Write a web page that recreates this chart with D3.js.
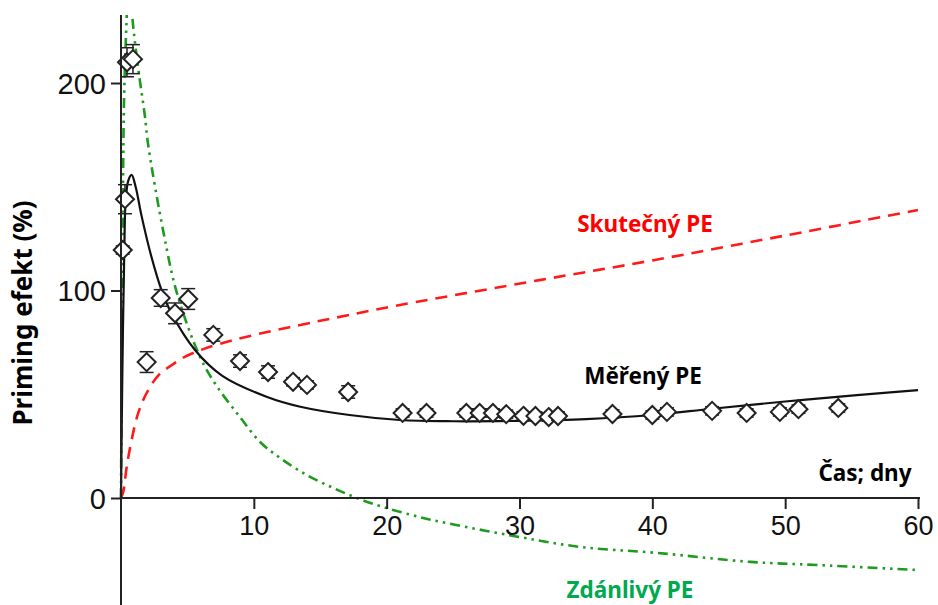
<!DOCTYPE html>
<html>
<head>
<meta charset="utf-8">
<script src="https://cdn.jsdelivr.net/npm/d3@7"></script>
<style>
  html, body { margin: 0; padding: 0; background: #fff; }
  svg { display: block; }
</style>
</head>
<body>
<div id="chart"></div>
<script>
// measured points: day, PE (%), error (+/-)
const measDays = [0.13, 0.3, 0.45, 0.9, 1.93, 2.99, 4.07, 5.06, 6.95, 8.96, 11.07, 12.95, 14, 17.1,
  21.2, 23, 26, 27, 28, 29, 30.3, 31.2, 32.2, 32.9, 37, 40, 41.1, 44.5, 47.1, 49.6, 51, 54];
const measPE = [119.5, 144, 210, 211.5, 65.5, 96.4, 89, 95.9, 78.6, 66, 60.7, 56, 54.5, 51.1,
  41, 41, 41, 41, 41, 40.4, 39.6, 39.5, 39, 39.5, 40.5, 40, 41.5, 42, 41, 41.5, 42.8, 43.4];
const measErr = [2, 7, 7, 7, 5, 4, 5, 5, 3, 3, 3, 2, 2, 3,
  2, 2, 2, 2, 2, 2, 2, 2, 2, 2, 2, 2, 2, 2, 2, 2, 2, 2];

// fitted "Měřený PE" (black solid)
const fitDays = [0, 0.1, 0.25, 0.35, 0.55, 0.8, 1.1, 1.56, 2.3, 3.06, 3.8, 5.57, 7.6, 11, 13.5, 17.2, 21, 25, 30, 35, 40, 44.5, 50, 55.4, 60];
const fitPE = [0, 60, 120, 143, 153, 155.7, 150, 135.6, 116, 100, 89, 71.3, 59, 48.7, 44, 40, 37.6, 37, 37.2, 38, 40, 43, 46.5, 49.6, 52];

// "Skutečný PE" (red dashed)
const realDays = [0, 0.17, 0.43, 0.8, 1.3, 1.93, 2.8, 3.8, 4.8, 6.3, 8.4, 11, 13.5, 16, 21, 31.5, 40, 50, 60];
const realPE = [0, 3, 15, 28, 41, 50.6, 59, 64, 68, 72, 76, 80, 83.4, 86.7, 93, 105, 114.5, 126.5, 138.8];

// "Zdánlivý PE" (green dash-dot-dot)
const appDays = [0, 0.06, 0.14, 0.23, 0.43, 0.62, 0.85, 1.3, 1.8, 2.05, 3.2, 4.2, 5.95, 7.2, 8.96, 10.47, 11.97, 14, 16, 17.75, 19.7, 22.5, 24, 30, 34.6, 40.4, 47.4, 52.4, 60];
const appPE = [0, 70, 140, 192, 232, 260, 232, 207, 184, 170, 128, 99, 68, 54, 39, 27, 19.3, 11, 4.8, 0, -4.3, -9.2, -11.4, -18.8, -23.6, -26.5, -30.8, -32.3, -34.7];

const xTicks = [10, 20, 30, 40, 50, 60];
const yTicks = [0, 100, 200];

const W = 938, H = 605;
const svg = d3.select("#chart").append("svg")
  .attr("width", W)
  .attr("height", H);

const x = d3.scaleLinear().domain([0, 60]).range([121, 918]);
const y = d3.scaleLinear().domain([0, 200]).range([498, 83]);

svg.append("defs").append("clipPath").attr("id", "plot")
  .append("rect").attr("x", 0).attr("y", 15).attr("width", W).attr("height", H - 15);

const plot = svg.append("g").attr("clip-path", "url(#plot)");

const line = d3.line()
  .x(d => x(d[0]))
  .y(d => y(d[1]))
  .curve(d3.curveCatmullRom.alpha(0.5));

// axes
const xAxis = svg.append("g")
  .attr("transform", `translate(0,${y(0)})`)
  .call(d3.axisBottom(x).tickValues(xTicks).tickSize(11).tickPadding(4).tickSizeOuter(0));
const yAxis = svg.append("g")
  .attr("transform", `translate(${x(0)},0)`)
  .call(d3.axisLeft(y).tickValues(yTicks).tickSize(10).tickPadding(5).tickSizeOuter(0));

[xAxis, yAxis].forEach(a => {
  a.select(".domain").remove();
  a.selectAll("line").attr("stroke", "#222").attr("stroke-width", 2);
  a.selectAll("text")
    .attr("fill", "#111")
    .style("font-family", "'Liberation Sans', Arial, sans-serif");
});
xAxis.selectAll("text").style("font-size", "27px").attr("dy", "0.8em");
yAxis.selectAll("text").style("font-size", "29px").attr("dy", "0.36em");

// axis lines
svg.append("line")
  .attr("x1", x(0)).attr("x2", x(60) + 2)
  .attr("y1", y(0)).attr("y2", y(0))
  .attr("stroke", "#222").attr("stroke-width", 2);
svg.append("line")
  .attr("x1", x(0)).attr("x2", x(0))
  .attr("y1", 15).attr("y2", H)
  .attr("stroke", "#222").attr("stroke-width", 2);

// curves
plot.append("path")
  .datum(d3.zip(appDays, appPE))
  .attr("d", line)
  .attr("fill", "none")
  .attr("stroke", "#1e9a1e")
  .attr("stroke-width", 2.6)
  .attr("stroke-dasharray", "10,5,2.5,5,2.5,5");

plot.append("path")
  .datum(d3.zip(realDays, realPE))
  .attr("d", line)
  .attr("fill", "none")
  .attr("stroke", "#ff1a1a")
  .attr("stroke-width", 2.6)
  .attr("stroke-dasharray", "12,8");

plot.append("path")
  .datum(d3.zip(fitDays, fitPE))
  .attr("d", line)
  .attr("fill", "none")
  .attr("stroke", "#111")
  .attr("stroke-width", 2.2);

// measured points with error bars
const pts = plot.append("g")
  .selectAll("g")
  .data(d3.zip(measDays, measPE, measErr))
  .join("g")
  .attr("transform", d => `translate(${x(d[0])},${y(d[1])})`);

pts.append("line")
  .attr("y1", d => y(d[1] + d[2]) - y(d[1]))
  .attr("y2", d => y(d[1] - d[2]) - y(d[1]))
  .attr("stroke", "#222").attr("stroke-width", 1.5);
pts.append("line")
  .attr("x1", -7).attr("x2", 7)
  .attr("y1", d => y(d[1] + d[2]) - y(d[1]))
  .attr("y2", d => y(d[1] + d[2]) - y(d[1]))
  .attr("stroke", "#222").attr("stroke-width", 1.5);
pts.append("line")
  .attr("x1", -7).attr("x2", 7)
  .attr("y1", d => y(d[1] - d[2]) - y(d[1]))
  .attr("y2", d => y(d[1] - d[2]) - y(d[1]))
  .attr("stroke", "#222").attr("stroke-width", 1.5);
pts.append("path")
  .attr("d", "M0,-9L9,0L0,9L-9,0Z")
  .attr("fill", "#fff")
  .attr("stroke", "#222")
  .attr("stroke-width", 2);

// labels
const lab = (txt, cx, cy, col) => svg.append("text")
  .attr("x", cx).attr("y", cy)
  .attr("text-anchor", "middle")
  .attr("dy", "0.35em")
  .attr("fill", col)
  .style("font-family", "'Noto Sans', 'Open Sans', sans-serif")
  .style("font-weight", "bold")
  .style("font-size", "22.5px")
  .text(txt);

lab("Skutečný PE", 645, 224, "#ff0000");
lab("Měřený PE", 643, 376, "#000");
lab("Čas; dny", 865, 473, "#000");
lab("Zdánlivý PE", 630, 590, "#00a84f");

svg.append("text")
  .attr("transform", "translate(23,313) rotate(-90)")
  .attr("text-anchor", "middle")
  .attr("dy", "0.35em")
  .attr("fill", "#000")
  .style("font-family", "'Noto Sans', 'Open Sans', sans-serif")
  .style("font-weight", "bold")
  .style("font-size", "26px")
  .text("Priming efekt (%)");
</script>
</body>
</html>
